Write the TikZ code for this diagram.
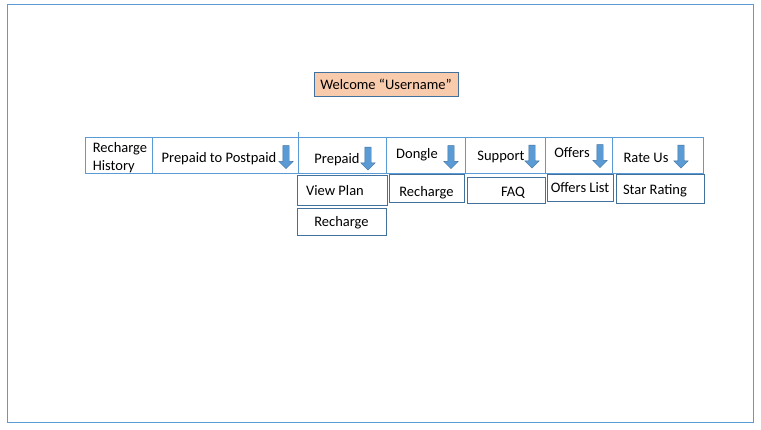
\documentclass[tikz,border=0pt]{standalone}
\usepackage{fontspec}
\setmainfont{Carlito}
\usepackage{tikz}
\usetikzlibrary{positioning}
\usetikzlibrary{shapes.arrows}
\definecolor{framblue}{HTML}{5B9BD5}
\definecolor{boxblue}{HTML}{41719C}
\definecolor{peach}{HTML}{F8CBAD}
\newcommand{\lowered}[2]{\raisebox{#1}[\height][\depth]{#2}}
\tikzset{
    cell/.style={draw=framblue, rectangle, minimum height=36, inner sep=0pt},
    subbox/.style={draw=boxblue, rectangle, inner sep=0pt, font=\fontsize{14.5}{17.5}\selectfont},
    menutext/.style={font=\fontsize{14.5}{17.5}\selectfont, inner sep=0pt},
    downarrow/.style={single arrow, draw=boxblue, fill=framblue, shape border rotate=270,
        minimum height=23, minimum width=14, single arrow head extend=4pt,
        single arrow tip angle=90, inner sep=3pt}
}
\begin{document}
\begin{tikzpicture}[x=1pt, y=-1pt]
                \useasboundingbox (0,0) rectangle (761,429);

                % Frame
                \draw[framblue, line width=1pt] (7,4) rectangle (753,422);

                % Welcome
                \node at (386,84) (welcome) [draw=boxblue, fill=peach, minimum width=144, minimum height=24, inner sep=0pt, font=\fontsize{14.5}{17.5}\selectfont] {Welcome “Username”};

                % Menu cells
                \node at (118.5,155) (rh) [cell, minimum width=67] {};
                \node at (225,155) (p2p) [cell, minimum width=146] {};
                \node at (342,155) (pre) [cell, minimum width=88] {};
                \node at (425.5,155) (dong) [cell, minimum width=79] {};
                \node at (505,155) (sup) [cell, minimum width=80] {};
                \node at (578.5,155) (off) [cell, minimum width=67] {};
                \node at (657.5,155) (rate) [cell, minimum width=91] {};
                \draw[framblue] (p2p.north east) -- ++(0,-5);

                % Menu texts
                \node at (120,157.5) (rh_text) [menutext, align=left] {Recharge\\History};
                \node at (219,159) (p2p_text) [menutext] {Prepaid to Postpaid};
                \node at (337,160) (pre_text) [menutext] {Prepaid};
                \node at (417,155) (dong_text) [menutext] {Dongle};
                \node at (501,157) (sup_text) [menutext] {Support};
                \node at (572,153) (off_text) [menutext] {Offers};
                \node at (646,158) (rate_text) [menutext] {Rate Us};

                % Down arrows
                \node at (286,155.5) (p2p_arrow) [downarrow] {};
                \node at (368,157) (pre_arrow) [downarrow] {};
                \node at (451,155.5) (dong_arrow) [downarrow] {};
                \node at (532,155) (sup_arrow) [downarrow] {};
                \node at (600,154.5) (off_arrow) [downarrow] {};
                \node at (681,155) (rate_arrow) [downarrow] {};

                % Sub items
                \node at (342,190) (viewplan) [subbox, minimum width=90, minimum height=30] {\hspace{-14pt}\lowered{-1pt}{View Plan}};
                \node at (341.5,221.5) (pre_rech) [subbox, minimum width=89, minimum height=27] {\lowered{-1pt}{Recharge}};
                \node at (426.5,188) (dong_rech) [subbox, minimum width=75, minimum height=28] {\lowered{-5pt}{Recharge}};
                \node at (506,190) (faq) [subbox, minimum width=78, minimum height=26] {\hspace{14pt}\lowered{-3pt}{FAQ}};
                \node at (580,187.5) (offlist) [subbox, minimum width=66, minimum height=27] {Offers List};
                \node at (660,188.5) (star) [subbox, minimum width=88, minimum height=29] {\hspace{-10pt}\lowered{-2pt}{Star Rating}};

\end{tikzpicture}
\end{document}
